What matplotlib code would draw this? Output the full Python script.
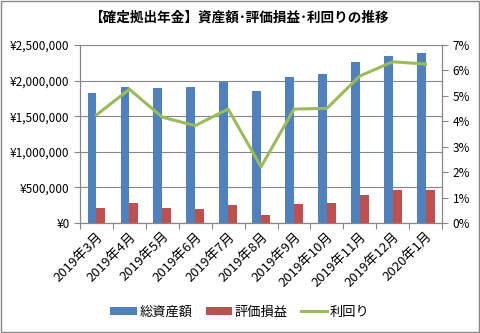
import numpy as np
import matplotlib.pyplot as plt
from matplotlib.ticker import FuncFormatter

plt.rcParams['font.family'] = ['Noto Sans CJK JP', 'DejaVu Sans']

months = ['2019年3月', '2019年4月', '2019年5月', '2019年6月', '2019年7月', '2019年8月',
          '2019年9月', '2019年10月', '2019年11月', '2019年12月', '2020年1月']
total_assets = [1820000, 1915000, 1890000, 1905000, 1975000, 1860000,
                2045000, 2090000, 2255000, 2350000, 2390000]
valuation = [206000, 276000, 206000, 192000, 253000, 112000,
             267000, 281000, 393000, 463000, 463000]
yield_pct = [4.25, 5.26, 4.16, 3.83, 4.48, 2.21, 4.48, 4.51, 5.78, 6.34, 6.25]

blue = '#4f81bd'
red = '#c0504d'
green = '#9bbb59'
axis_gray = '#868686'

fig = plt.figure(figsize=(4.8, 3.33), dpi=100)
fig.patches.append(plt.Rectangle((0.002, 0.003), 0.996, 0.994, transform=fig.transFigure,
                                 fill=False, edgecolor='#888888', linewidth=1))
ax = fig.add_axes([0.1667, 0.3303, 0.7543, 0.5346])

x = np.arange(len(months))
w = 0.27
ax.bar(x - w / 2, total_assets, w, color=blue, label='総資産額', zorder=2)
ax.bar(x + w / 2, valuation, w, color=red, label='評価損益', zorder=2)

ax.set_xlim(-0.5, len(months) - 0.5)
ax.set_ylim(0, 2500000)
ax.set_yticks(np.arange(0, 2500001, 500000))
ax.yaxis.set_major_formatter(FuncFormatter(lambda v, p: '¥{:,.0f}'.format(v)))
ax.grid(axis='y', color=axis_gray, linewidth=0.8, zorder=0)
ax.set_axisbelow(True)

# ticks sit between the months, labels at the month centres
ax.set_xticks(np.arange(-0.5, len(months), 1))
ax.set_xticklabels([])
ax.set_xticks(x, minor=True)
ax.set_xticklabels(months, minor=True, rotation=45, ha='right', va='top',
                   rotation_mode='anchor', fontsize=9.5)
ax.tick_params(axis='x', which='minor', length=0, pad=5)
ax.tick_params(axis='x', which='major', length=4, color=axis_gray)
ax.tick_params(axis='y', length=4, color=axis_gray, labelsize=8.5)
for s in ax.spines.values():
    s.set_color(axis_gray)
ax.spines['top'].set_visible(False)

ax2 = ax.twinx()
ax2.plot(x, yield_pct, color=green, linewidth=2.2, label='利回り', zorder=3)
ax2.set_ylim(0, 7)
ax2.set_yticks(range(0, 8))
ax2.yaxis.set_major_formatter(FuncFormatter(lambda v, p: '{:.0f}%'.format(v)))
ax2.tick_params(axis='y', length=4, color=axis_gray, labelsize=8.5)
for s in ax2.spines.values():
    s.set_color(axis_gray)
ax2.spines['top'].set_visible(False)

fig.text(0.497, 0.948, '【確定拠出年金】資産額･評価損益･利回りの推移', ha='center', va='center',
         fontsize=9.8, fontweight='bold')

h1, l1 = ax.get_legend_handles_labels()
h2, l2 = ax2.get_legend_handles_labels()
fig.legend(h1 + h2, l1 + l2, loc='center', bbox_to_anchor=(0.5, 0.063), ncol=3,
           frameon=False, fontsize=9.5, handlelength=2.0, handleheight=0.5,
           columnspacing=1.0, handletextpad=0.2)

fig.savefig('out.png', dpi=100)
